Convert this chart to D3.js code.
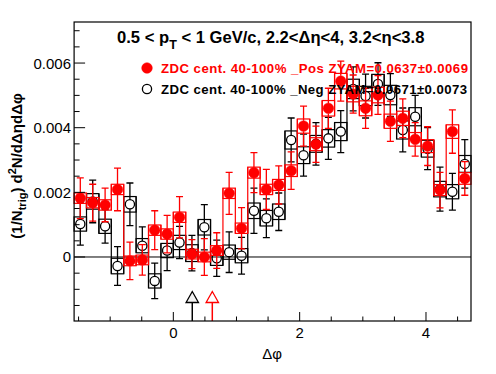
<!DOCTYPE html>
<html>
<head>
<meta charset="utf-8">
<script src="https://cdn.jsdelivr.net/npm/d3@7"></script>
<style>
  body { margin: 0; background: #fff; }
  text { font-family: "Liberation Sans", Arial, Helvetica, sans-serif; }
</style>
</head>
<body>
<div id="graf"></div>
<script>
// dphi correlation, ZDC 40-100%, Pos vs Neg

// 32 bins over [-pi/2, 3pi/2]
nbins = 32
phiMin = -Math.PI / 2
phiMax = 3 * Math.PI / 2

posVal = [0.00182, 0.00168, 0.00161, 0.00209, -0.00012, -0.00009, 0.00083, 0.00071,
          0.00123, 0.00009, 0.00000, 0.00020, 0.00197, 0.00089, 0.00261, 0.00209,
          0.00223, 0.00267, 0.00405, 0.00349, 0.00460, 0.00544, 0.00504, 0.00460,
          0.00501, 0.00420, 0.00429, 0.00364, 0.00343, 0.00207, 0.00388, 0.00243]
posErr = [0.00063, 0.00057, 0.00052, 0.00066, 0.00058, 0.00047, 0.00060, 0.00058,
          0.00064, 0.00045, 0.00057, 0.00055, 0.00065, 0.00064, 0.00062, 0.00062,
          0.00059, 0.00058, 0.00062, 0.00056, 0.00062, 0.00062, 0.00059, 0.00062,
          0.00060, 0.00062, 0.00060, 0.00052, 0.00060, 0.00055, 0.00067, 0.00052]
posSys = [0.00016, 0.00016, 0.00016, 0.00016, 0.00015, 0.00015, 0.00016, 0.00016,
          0.00016, 0.00015, 0.00015, 0.00015, 0.00016, 0.00016, 0.00017, 0.00016,
          0.00017, 0.00018, 0.00022, 0.00020, 0.00024, 0.00024, 0.00024, 0.00023,
          0.00024, 0.00022, 0.00022, 0.00021, 0.00020, 0.00017, 0.00021, 0.00018]

negVal = [0.00102, 0.00172, 0.00095, -0.00028, 0.00163, 0.00035, -0.00074, 0.00020,
          0.00045, 0.00012, 0.00092, -0.00004, 0.00015, 0.00004, 0.00143, 0.00120,
          0.00140, 0.00362, 0.00315, 0.00350, 0.00367, 0.00388, 0.00520, 0.00498,
          0.00535, 0.00501, 0.00393, 0.00434, 0.00335, 0.00210, 0.00202, 0.00288]
negErr = [0.00065, 0.00066, 0.00052, 0.00060, 0.00066, 0.00058, 0.00055, 0.00062,
          0.00050, 0.00055, 0.00070, 0.00056, 0.00063, 0.00057, 0.00070, 0.00060,
          0.00058, 0.00068, 0.00065, 0.00066, 0.00065, 0.00065, 0.00068, 0.00068,
          0.00066, 0.00066, 0.00068, 0.00066, 0.00065, 0.00068, 0.00057, 0.00075]
negSys = [0.00022, 0.00024, 0.00022, 0.00024, 0.00024, 0.00022, 0.00022, 0.00022,
          0.00022, 0.00026, 0.00024, 0.00022, 0.00022, 0.00022, 0.00024, 0.00024,
          0.00024, 0.00028, 0.00026, 0.00026, 0.00027, 0.00028, 0.00030, 0.00030,
          0.00030, 0.00030, 0.00028, 0.00028, 0.00026, 0.00024, 0.00022, 0.00026]

// ZYAM minimum positions (arrows)
zyamPhi = [0.30, 0.617]
zyamColor = ['#000000', '#ff0000']

legendLabels = ['ZDC cent. 40-100% _Pos ZYAM=0.0637\u00b10.0069',
                'ZDC cent. 40-100% _Neg ZYAM=0.0671\u00b10.0073']

xMajor = [0, 2, 4]
yMajor = [0, 0.002, 0.004, 0.006]

ancho_total = 496
alto_total = 374
frame = { left: 74.1, right: 471, top: 22, bottom: 321 }

svg = d3.select('#graf').append('svg')
  .attr('width', ancho_total)
  .attr('height', alto_total)

x = d3.scaleLinear().domain([phiMin, phiMax]).range([frame.left, frame.right])
y = d3.scaleLinear().domain([-0.00198, 0.00727]).range([frame.bottom, frame.top])

bw = (phiMax - phiMin) / nbins
centers = d3.range(nbins).map(i => phiMin + (i + 0.5) * bw)

function makeSeries(vals, errs, syss) {
  return vals.map((v, i) => ({ phi: centers[i], v: v, e: errs[i], s: syss[i] }))
}
pos = makeSeries(posVal, posErr, posSys)
neg = makeSeries(negVal, negErr, negSys)

// zero line
svg.append('line')
  .attr('x1', frame.left).attr('x2', frame.right)
  .attr('y1', y(0)).attr('y2', y(0))
  .attr('stroke', 'black').attr('stroke-width', 1)

function drawSeries(data, color, filled) {
  g = svg.append('g')

  // sys boxes
  g.selectAll('rect.sys')
    .data(data)
    .enter().append('rect')
      .attr('x', d => x(d.phi - bw / 2))
      .attr('width', d => x(d.phi + bw / 2) - x(d.phi - bw / 2))
      .attr('y', d => y(d.v + d.s))
      .attr('height', d => y(d.v - d.s) - y(d.v + d.s))
      .attr('fill', 'none')
      .attr('stroke', color)
      .attr('stroke-width', 1.2)

  // steps between neighbouring boxes
  edges = d3.range(nbins - 1).map(i => ({
    phi: data[i].phi + bw / 2,
    lo: Math.min(data[i].v - data[i].s, data[i + 1].v - data[i + 1].s),
    hi: Math.max(data[i].v + data[i].s, data[i + 1].v + data[i + 1].s)
  }))
  g.selectAll('line.step')
    .data(edges)
    .enter().append('line')
      .attr('x1', d => x(d.phi)).attr('x2', d => x(d.phi))
      .attr('y1', d => y(d.hi)).attr('y2', d => y(d.lo))
      .attr('stroke', color)
      .attr('stroke-width', 1.2)

  r = filled ? 5.3 : 4.6
  // error bars, split around the marker
  g.selectAll('path.err')
    .data(data)
    .enter().append('path')
      .attr('d', d => {
        cx = x(d.phi)
        cy = y(d.v)
        yt = y(d.v + d.e)
        yb = y(d.v - d.e)
        return `M${cx},${cy - r}V${yt}M${cx - 3.5},${yt}H${cx + 3.5}` +
               `M${cx},${cy + r}V${yb}M${cx - 3.5},${yb}H${cx + 3.5}`
      })
      .attr('fill', 'none')
      .attr('stroke', color)
      .attr('stroke-width', 1.3)

  g.selectAll('circle')
    .data(data)
    .enter().append('circle')
      .attr('cx', d => x(d.phi))
      .attr('cy', d => y(d.v))
      .attr('r', r)
      .attr('fill', filled ? color : 'none')
      .attr('stroke', color)
      .attr('stroke-width', filled ? 0.5 : 1.3)
}

drawSeries(neg, '#000000', false)
drawSeries(pos, '#ff0000', true)

// ZYAM arrows
zyamPhi.forEach((p, i) => {
  px = x(p)
  svg.append('line')
    .attr('x1', px).attr('x2', px)
    .attr('y1', 302.5).attr('y2', frame.bottom)
    .attr('stroke', zyamColor[i]).attr('stroke-width', 1.5)
  svg.append('path')
    .attr('d', `M${px},291.5L${px - 6.2},302.5L${px + 6.2},302.5Z`)
    .attr('fill', i == 0 ? '#f2f2f2' : 'none')
    .attr('stroke', zyamColor[i]).attr('stroke-width', 1.3)
})

// frame
svg.append('rect')
  .attr('x', frame.left).attr('y', frame.top)
  .attr('width', frame.right - frame.left)
  .attr('height', frame.bottom - frame.top)
  .attr('fill', 'none').attr('stroke', 'black').attr('stroke-width', 1.2)

// axes ticks
xMinor = d3.range(-1.5, 4.51, 0.5)
svg.selectAll('line.xt')
  .data(xMinor)
  .enter().append('line')
    .attr('x1', d => x(d)).attr('x2', d => x(d))
    .attr('y1', frame.bottom)
    .attr('y2', d => frame.bottom - (xMajor.includes(d) ? 9 : 4.5))
    .attr('stroke', 'black')

svg.selectAll('text.xl')
  .data(xMajor)
  .enter().append('text')
    .attr('x', d => x(d))
    .attr('y', 337.5)
    .attr('text-anchor', 'middle')
    .attr('font-size', '15px')
    .text(d => d)

yMinor = d3.range(-0.0015, 0.00701, 0.0005)
svg.selectAll('line.yt')
  .data(yMinor)
  .enter().append('line')
    .attr('x1', frame.left)
    .attr('x2', d => frame.left + (yMajor.some(m => Math.abs(m - d) < 1e-9) ? 11 : 5.5))
    .attr('y1', d => y(d)).attr('y2', d => y(d))
    .attr('stroke', 'black')

svg.selectAll('text.yl')
  .data(yMajor)
  .enter().append('text')
    .attr('x', 71)
    .attr('y', d => y(d) + 5.5)
    .attr('text-anchor', 'end')
    .attr('font-size', '15px')
    .text(d => d == 0 ? '0' : d3.format('.3f')(d))

// axis titles
svg.append('text')
  .attr('x', 272).attr('y', 359)
  .attr('text-anchor', 'middle')
  .attr('font-size', '15px')
  .text('\u0394\u03c6')

yt = svg.append('text')
  .attr('transform', 'translate(22, 166) rotate(-90)')
  .attr('text-anchor', 'middle')
  .attr('font-size', '15px')
  .attr('font-weight', 'bold')
yt.append('tspan').text('(1/N')
yt.append('tspan').attr('font-size', '11px').attr('dy', 4).text('trig')
yt.append('tspan').attr('dy', -4).text(') d')
yt.append('tspan').attr('font-size', '11px').attr('dy', -6).text('2')
yt.append('tspan').attr('dy', 6).text('N/d\u0394\u03b7d\u0394\u03c6')

// title
tt = svg.append('text')
  .attr('x', 117).attr('y', 43)
  .attr('font-size', '16.6px')
  .attr('font-weight', 'bold')
tt.append('tspan').text('0.5 < p')
tt.append('tspan').attr('font-size', '12.5px').attr('dy', 6).text('T')
tt.append('tspan').attr('dy', -6).text(' < 1 GeV/c, 2.2<\u0394\u03b7<4, 3.2<\u03b7<3.8')

// legend
legColors = ['#ff0000', '#000000']
legY = [68, 89]
legLen = [307, 306]
legendLabels.forEach((lab, i) => {
  svg.append('circle')
    .attr('cx', 147).attr('cy', legY[i])
    .attr('r', i == 0 ? 5.3 : 4.6)
    .attr('fill', i == 0 ? '#ff0000' : 'none')
    .attr('stroke', legColors[i])
    .attr('stroke-width', i == 0 ? 0.5 : 1.3)
  svg.append('text')
    .attr('x', 161).attr('y', legY[i] + 4.8)
    .attr('font-size', '13.2px')
    .attr('font-weight', 'bold')
    .attr('fill', legColors[i])
    .attr('textLength', legLen[i])
    .attr('lengthAdjust', 'spacing')
    .text(lab)
})
</script>
</body>
</html>
